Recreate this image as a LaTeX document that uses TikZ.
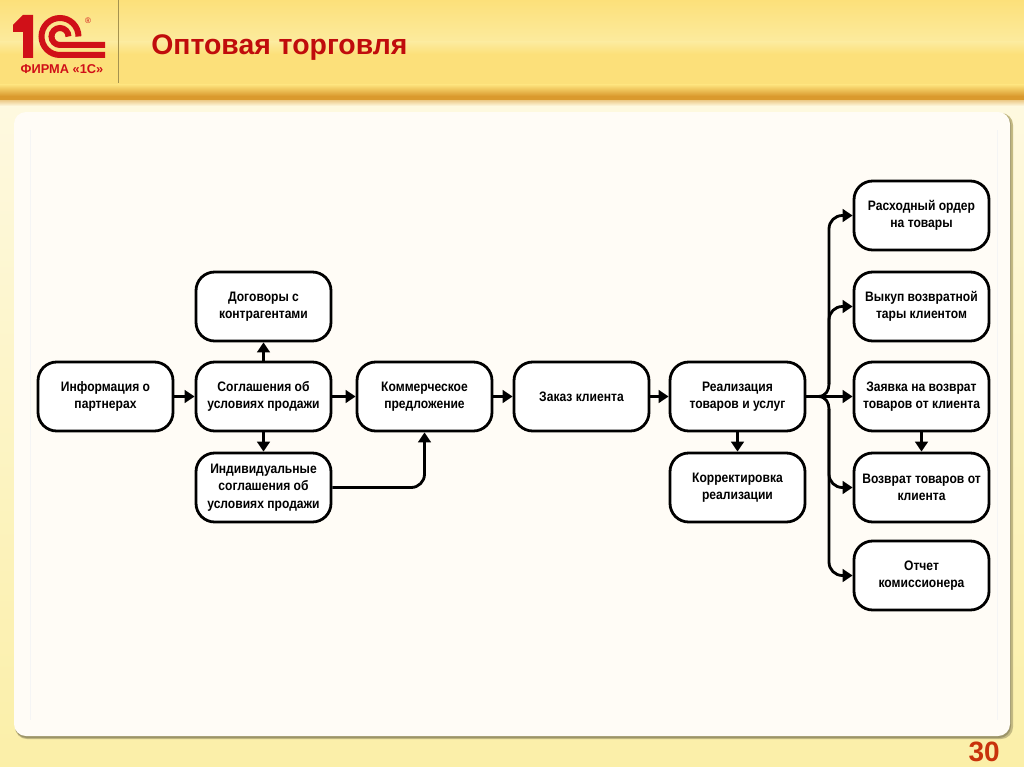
\documentclass[tikz,border=0pt]{standalone}
\usepackage{fontspec}
\setmainfont{Liberation Sans}
\newfontfamily\boxfont[FakeStretch=0.88]{Liberation Sans}
\usetikzlibrary{arrows.meta}
\definecolor{hdrA}{HTML}{FCEB9E}
\definecolor{hdrB}{HTML}{FCE07A}
\definecolor{band}{HTML}{DA9A2E}
\definecolor{pageA}{HTML}{FEF9E0}
\definecolor{pageB}{HTML}{FBEFA8}
\definecolor{panel}{HTML}{FFFCF6}
\definecolor{logored}{HTML}{D01018}
\definecolor{titlered}{HTML}{C00C0C}
\definecolor{numred}{HTML}{C8320C}
\tikzset{
  x=0.75pt,y=-0.75pt,
  flowbox/.style={draw=black,line width=2.1pt,fill=white,rounded corners=14pt,minimum width=101.25pt,minimum height=51.75pt,inner sep=0pt,align=center,font=\boxfont\bfseries\fontsize{10.3}{13.2}\selectfont},
  conn/.style={draw=black,line width=2.1pt,-{Triangle[length=7.5pt,width=9.5pt]},rounded corners=10pt},
  busline/.style={draw=black,line width=2.1pt,line cap=round},
  logostroke/.style={draw=logored,line width=4.5pt},
}
\begin{document}
\begin{tikzpicture}
\useasboundingbox (0,0) rectangle (1024,767);
% header and page
\fill[pageB] (0,0) rectangle (1024,767);
\shade[top color=pageA,bottom color=pageB] (0,100) rectangle (1024,767);
\shade[top color=hdrB,bottom color=hdrA] (0,0) rectangle (1024,42);
\shade[top color=hdrA,bottom color=hdrB] (0,42) rectangle (1024,54);
\fill[hdrB] (0,54) rectangle (1024,85);
\shade[top color=hdrB,bottom color=band] (0,85) rectangle (1024,96);
\fill[band] (0,96) rectangle (1024,100);
\shade[top color=band!50!pageA,bottom color=pageA] (0,100) rectangle (1024,106);
\draw[black!35!hdrB,line width=0.6pt] (118,0) -- (118,83);
% panel
\fill[black!22!pageB,rounded corners=9pt] (15,113) rectangle (1013,739);
\fill[black!38!pageB,rounded corners=9pt] (15,113) rectangle (1011,738);
\fill[panel,rounded corners=9pt] (14,112) rectangle (1010,736);
\draw[black!4,line width=0.4pt] (30,130) -- (30,720) (997,130) -- (997,720);
% logo
\fill[logored] (13,25) -- (23,15) -- (33,15) -- (33,58) -- (23,58) -- (23,32) -- (13,32) -- cycle;
\draw[logostroke] (105,55) -- (60,55) arc[start angle=90,end angle=360,radius=18.5];
\draw[logostroke] (105,45) -- (60,45) arc[start angle=90,end angle=360,radius=8.5];
\node[text=logored,font=\bfseries\fontsize{9.6}{11}\selectfont,inner sep=0pt] (logotext) at (62,69) {ФИРМА «1С»};
\node[text=logored,font=\fontsize{6}{6}\selectfont,inner sep=0pt] (logoreg) at (88,21) {®};
% title and page number
\node[anchor=west,text=titlered,font=\bfseries\fontsize{21.3}{25}\selectfont,inner sep=0pt] (title) at (151,48) {Оптовая торговля};
\node[anchor=east,text=numred,font=\bfseries\fontsize{21}{25}\selectfont,inner sep=0pt] (pagenum) at (1000,752) {30};
% boxes
\node[flowbox] (info) at (105.5,396.5) {Информация о\\партнерах};
\node[flowbox] (sogl) at (263.5,396.5) {Соглашения об\\условиях продажи};
\node[flowbox] (dog) at (263.5,306.5) {Договоры с\\контрагентами};
\node[flowbox] (ind) at (263.5,487.5) {Индивидуальные\\соглашения об\\условиях продажи};
\node[flowbox] (kom) at (424.5,396.5) {Коммерческое\\предложение};
\node[flowbox] (zak) at (581.5,396.5) {Заказ клиента};
\node[flowbox] (real) at (737.5,396.5) {Реализация\\товаров и услуг};
\node[flowbox] (kor) at (737.5,487.5) {Корректировка\\реализации};
\node[flowbox] (rash) at (921.5,215.5) {Расходный ордер\\на товары};
\node[flowbox] (vyk) at (921.5,306.5) {Выкуп возвратной\\тары клиентом};
\node[flowbox] (zay) at (921.5,396.5) {Заявка на возврат\\товаров от клиента};
\node[flowbox] (vozv) at (921.5,487.5) {Возврат товаров от\\клиента};
\node[flowbox] (otch) at (921.5,575.5) {Отчет\\комиссионера};
% connectors
\draw[conn] (info) -- (sogl);
\draw[conn] (sogl) -- (dog);
\draw[conn] (sogl) -- (ind);
\draw[conn] (sogl) -- (kom);
\draw[conn] (kom) -- (zak);
\draw[conn] (zak) -- (real);
\draw[conn] (real) -- (kor);
\draw[conn] (real) -- (zay);
\draw[conn] (zay) -- (vozv);
\draw[conn] (ind.east) -| (kom.south);
\coordinate (hub) at (818,396.5);
\coordinate (bup) at (829,384);
\coordinate (bdn) at (829,409);
\draw[busline] (hub) .. controls +(8,0) and +(0,6) .. (bup);
\draw[busline] (hub) .. controls +(8,0) and +(0,-6) .. (bdn);
\draw[conn] (bup) |- (rash.west);
\draw[conn] (bup) |- (vyk.west);
\draw[conn] (bdn) |- (vozv.west);
\draw[conn] (bdn) |- (otch.west);
\end{tikzpicture}
\end{document}
